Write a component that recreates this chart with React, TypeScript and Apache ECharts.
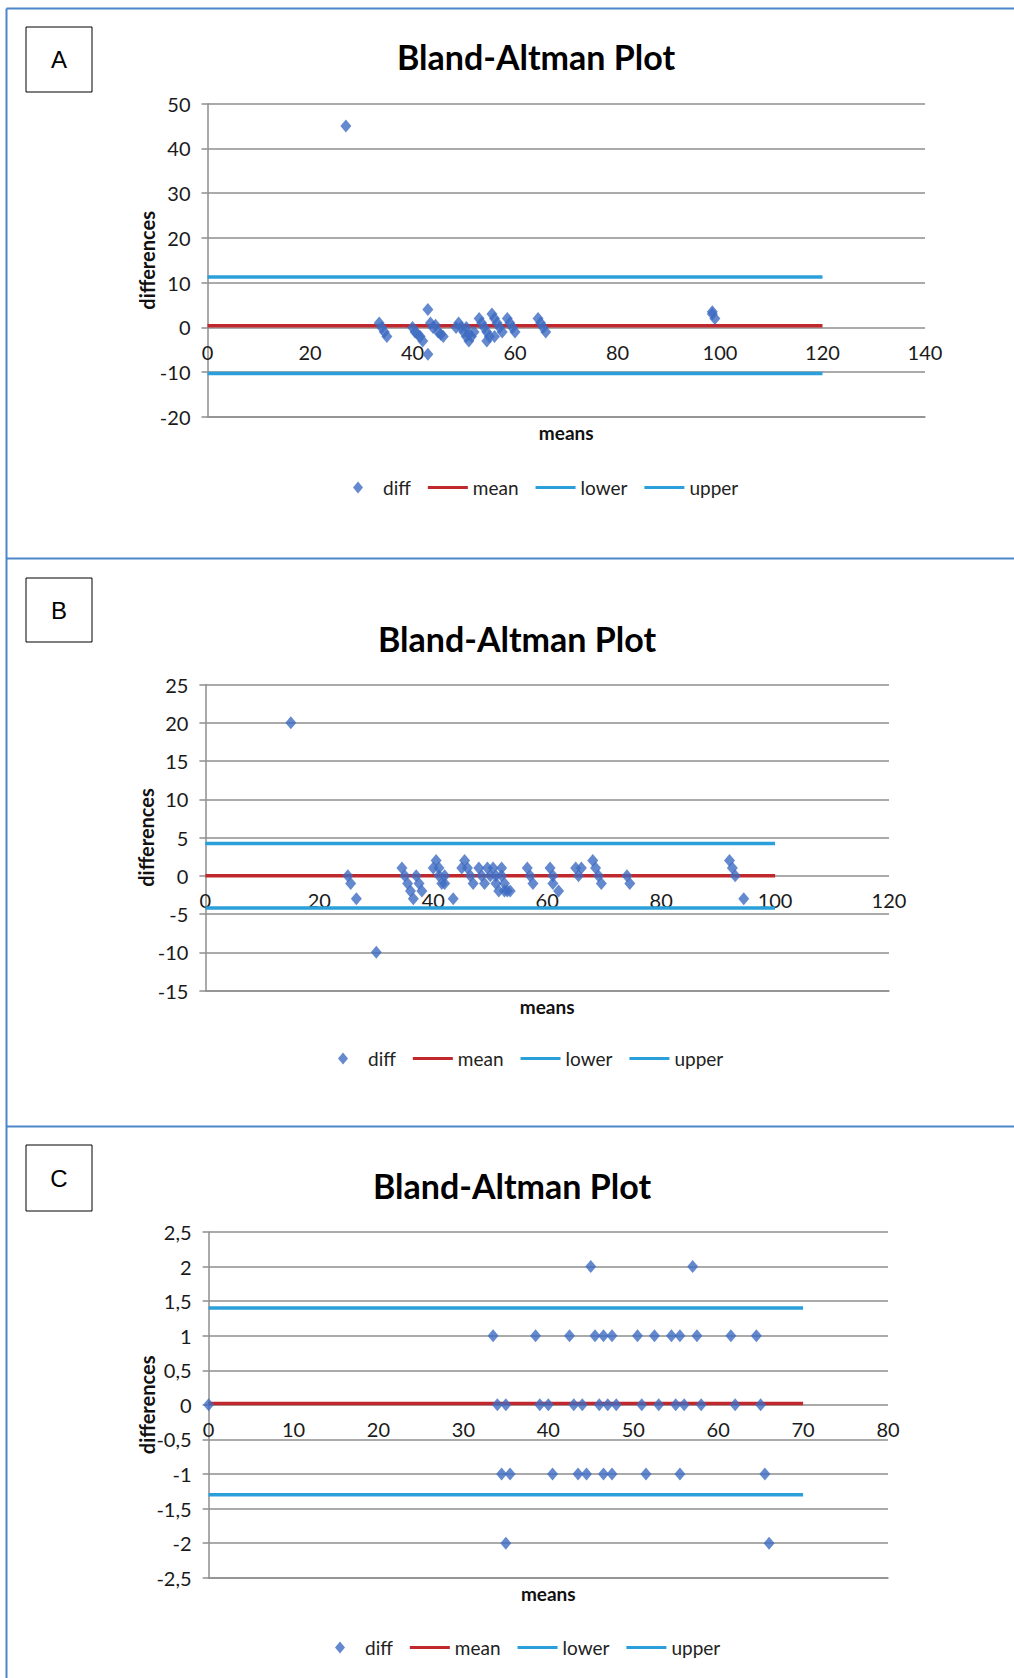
import React, { useEffect, useRef } from "react";
import * as echarts from "echarts";

// ---------- DATA ----------
const seriesNames = ["diff", "mean", "lower", "upper"];
const panelLetters = ["A", "B", "C"];
const chartTitle = "Bland-Altman Plot";
const xAxisName = "means";
const yAxisName = "differences";

// Panel A: [mean, difference]
const panelAPoints: number[][] = [
  [27, 45],
  [33.5, 1], [34, 0], [34.5, -1], [35, -2],
  [40, 0], [40.5, -1], [41, -1.5], [41.5, -2], [42, -3],
  [43, 4], [43, -6],
  [43.5, 1], [44, 0], [44.5, 0.5], [45, -1], [45.5, -1.5], [46, -2],
  [48.5, 0],
  [49, 1], [49.5, 0], [50, -1], [50.5, -2], [51, -3], [51.5, -2], [52, -1], [50.5, 0], [51, -1.5],
  [53, 2], [53.5, 1], [54, 0], [54.5, -1], [55, -2], [54.5, -3],
  [55.5, 3], [56, 2], [56.5, 1], [57, 0], [57.5, -1], [56, -2],
  [58.5, 2], [59, 1], [59.5, 0], [60, -1],
  [64.5, 2], [65, 1], [65.5, 0], [66, -1],
  [98.5, 3.5], [98.5, 3], [99, 2],
];
const panelALimits = [0.4, -10.3, 11.3]; // mean, lower, upper
const panelALineEnd = 120;
const panelAXRange = [0, 140, 20]; // min, max, interval
const panelAYRange = [-20, 50, 10];

// Panel B
const panelBPoints: number[][] = [
  [15, 20],
  [25, 0], [25.5, -1], [26.5, -3],
  [30, -10],
  [34.5, 1], [35, 0], [35.5, -1], [36, -2], [36.5, -3],
  [37, 0], [37.5, -1], [38, -2],
  [40, 1], [40.5, 2], [41, 1], [41, 0], [41.5, -1], [42, 0], [42, -1],
  [43.5, -3],
  [45, 1], [45.5, 2], [46, 1], [46.5, 0], [47, -1],
  [48, 1], [48.5, 0], [49, -1],
  [49.5, 1], [50, 0], [50.5, 1], [51, 0], [51, -1], [51.5, -2], [52, 1], [52, 0],
  [52.5, -1], [52.5, -2], [53, -2], [53.5, -2],
  [56.5, 1], [57, 0], [57.5, -1],
  [60.5, 1], [61, 0], [61, -1], [62, -2],
  [65, 1], [65.5, 0], [66, 1],
  [68, 2], [68.5, 1], [69, 0], [69.5, -1],
  [74, 0], [74.5, -1],
  [92, 2], [92.5, 1], [93, 0],
  [94.5, -3],
];
const panelBLimits = [0, -4.2, 4.2];
const panelBLineEnd = 100;
const panelBXRange = [0, 120, 20];
const panelBYRange = [-15, 25, 5];

// Panel C
const panelCPoints: number[][] = [
  [45, 2], [57, 2],
  [33.5, 1], [38.5, 1], [42.5, 1], [45.5, 1], [46.5, 1], [47.5, 1], [50.5, 1],
  [52.5, 1], [54.5, 1], [55.5, 1], [57.5, 1], [61.5, 1], [64.5, 1],
  [0, 0], [34, 0], [35, 0], [39, 0], [40, 0], [43, 0], [44, 0], [46, 0], [47, 0],
  [48, 0], [51, 0], [53, 0], [55, 0], [56, 0], [58, 0], [62, 0], [65, 0],
  [34.5, -1], [35.5, -1], [40.5, -1], [43.5, -1], [44.5, -1], [46.5, -1],
  [47.5, -1], [51.5, -1], [55.5, -1], [65.5, -1],
  [35, -2], [66, -2],
];
const panelCLimits = [0.02, -1.3, 1.4];
const panelCLineEnd = 70;
const panelCXRange = [0, 80, 10];
const panelCYRange = [-2.5, 2.5, 0.5];

// ---------- STYLE / LAYOUT ----------
const W = 1014;
const H = 1678;
const FONT = "Lato, 'Open Sans', sans-serif";
const DIFF_COLOR = "#3d6cc2";
const MEAN_COLOR = "#c0282d";
const LIMIT_COLOR = "#2a9fd9";
const GRID_COLOR = "#8e8e8e";
const FRAME_COLOR = "#4a86c8";

const panels = [
  {
    points: panelAPoints, limits: panelALimits, lineEnd: panelALineEnd,
    xr: panelAXRange, yr: panelAYRange, comma: false,
    grid: { left: 207.5, top: 103.7, width: 717.5, height: 313.3 },
    zeroY: 327, title: { x: 536, y: 56 }, box: { x: 26, y: 27, w: 66, h: 65 },
    yNameGap: 51, legend: { left: 348, top: 473 },
  },
  {
    points: panelBPoints, limits: panelBLimits, lineEnd: panelBLineEnd,
    xr: panelBXRange, yr: panelBYRange, comma: false,
    grid: { left: 205.4, top: 684.5, width: 683.6, height: 306 },
    zeroY: 875, title: { x: 517, y: 638 }, box: { x: 26, y: 578, w: 66, h: 64 },
    yNameGap: 49, legend: { left: 333, top: 1044 },
  },
  {
    points: panelCPoints, limits: panelCLimits, lineEnd: panelCLineEnd,
    xr: panelCXRange, yr: panelCYRange, comma: true,
    grid: { left: 208.6, top: 1232, width: 679.4, height: 345.7 },
    zeroY: 1404.4, title: { x: 512, y: 1185 }, box: { x: 26, y: 1145, w: 66, h: 66 },
    yNameGap: 52, legend: { left: 330, top: 1633 },
  },
];

const fmt = (comma: boolean) => (v: number) =>
  comma ? String(v).replace(".", ",") : String(v);

function buildOption() {
  const grid: any[] = [];
  const xAxis: any[] = [];
  const yAxis: any[] = [];
  const series: any[] = [];
  const legend: any[] = [];
  const graphic: any[] = [];

  panels.forEach((p, i) => {
    grid.push({ ...p.grid, containLabel: false, outerBoundsMode: "none" });
    const bottom = p.grid.top + p.grid.height;
    // place x tick labels just below the zero line, as in the original
    const labelMargin = p.zeroY + 15 - bottom;
    xAxis.push({
      type: "value",
      gridIndex: i,
      min: p.xr[0],
      max: p.xr[1],
      interval: p.xr[2],
      name: xAxisName,
      nameLocation: "middle",
      nameGap: 6,
      nameMoveOverlap: false,
      nameTextStyle: { fontFamily: FONT, fontWeight: "bold", fontSize: 19, color: "#111" },
      axisLine: { show: true, onZero: false, lineStyle: { color: GRID_COLOR, width: 1.5 } },
      axisTick: { show: false },
      axisLabel: { fontFamily: FONT, fontSize: 20, color: "#1a1a1a", margin: labelMargin },
      splitLine: { show: false },
    });
    yAxis.push({
      type: "value",
      gridIndex: i,
      min: p.yr[0],
      max: p.yr[1],
      interval: p.yr[2],
      name: yAxisName,
      nameLocation: "middle",
      nameRotate: 90,
      nameGap: p.yNameGap,
      nameMoveOverlap: false,
      nameTextStyle: { fontFamily: FONT, fontWeight: "bold", fontSize: 20, color: "#111" },
      axisLine: { show: true, onZero: false, lineStyle: { color: GRID_COLOR, width: 1.5 } },
      axisTick: { show: true, length: 6, lineStyle: { color: GRID_COLOR, width: 1.5 } },
      axisLabel: { fontFamily: FONT, fontSize: 20, color: "#1a1a1a", margin: 17, formatter: fmt(p.comma) },
      splitLine: { show: true, lineStyle: { color: GRID_COLOR, width: 1.5 } },
    });
    series.push({
      name: seriesNames[0],
      type: "scatter",
      xAxisIndex: i,
      yAxisIndex: i,
      symbol: "diamond",
      symbolSize: [11, 13],
      color: DIFF_COLOR,
      data: p.points,
      z: 5,
    });
    const lineColors = [MEAN_COLOR, LIMIT_COLOR, LIMIT_COLOR];
    [1, 2, 3].forEach((k) => {
      const v = p.limits[k - 1];
      series.push({
        name: seriesNames[k],
        type: "line",
        xAxisIndex: i,
        yAxisIndex: i,
        symbol: "none",
        color: lineColors[k - 1],
        lineStyle: { width: 3.5, color: lineColors[k - 1] },
        data: [[0, v], [p.lineEnd, v]],
        z: 3,
      });
    });
    legend.push({
      left: p.legend.left,
      top: p.legend.top,
      orient: "horizontal",
      itemWidth: 40,
      itemHeight: 12,
      itemGap: 17,
      selectedMode: false,
      textStyle: { fontFamily: FONT, fontSize: 19, color: "#222" },
      data: [
        { name: seriesNames[0], icon: "path://M5,0 L10,6 L5,12 L0,6 Z" },
        { name: seriesNames[1], icon: "path://M0,0 H40 V3 H0 Z" },
        { name: seriesNames[2], icon: "path://M0,0 H40 V3 H0 Z" },
        { name: seriesNames[3], icon: "path://M0,0 H40 V3 H0 Z" },
      ],
    });
    graphic.push({
      type: "text",
      x: p.title.x,
      y: p.title.y,
      style: {
        text: chartTitle,
        align: "center",
        verticalAlign: "middle",
        font: `bold 34px ${FONT}`,
        fill: "#000",
      },
    });
    graphic.push({
      type: "rect",
      shape: { x: p.box.x, y: p.box.y, width: p.box.w, height: p.box.h },
      style: { fill: "#fff", stroke: "#000", lineWidth: 1 },
    });
    graphic.push({
      type: "text",
      x: p.box.x + p.box.w / 2,
      y: p.box.y + p.box.h / 2,
      style: {
        text: panelLetters[i],
        align: "center",
        verticalAlign: "middle",
        font: "24px 'Liberation Sans', Arial, sans-serif",
        fill: "#000",
      },
    });
  });

  // frame lines
  const frame = [
    [6.5, 8.5, 6.5, H],
    [6.5, 8.5, W, 8.5],
    [6.5, 558.5, W, 558.5],
    [6.5, 1126.5, W, 1126.5],
  ];
  frame.forEach((f) => {
    graphic.push({
      type: "line",
      shape: { x1: f[0], y1: f[1], x2: f[2], y2: f[3] },
      style: { stroke: FRAME_COLOR, lineWidth: 2 },
    });
  });

  return {
    animation: false,
    backgroundColor: "#ffffff",
    grid,
    xAxis,
    yAxis,
    series,
    legend,
    graphic,
  };
}

export default function App() {
  const ref = useRef<HTMLDivElement>(null);
  useEffect(() => {
    if (!ref.current) return;
    const chart = echarts.init(ref.current, undefined, { renderer: "svg" });
    chart.setOption(buildOption() as any);
    return () => chart.dispose();
  }, []);
  return (
    <div
      ref={ref}
      style={{ position: "absolute", left: 0, top: 0, width: W, height: H, background: "#fff" }}
    />
  );
}
